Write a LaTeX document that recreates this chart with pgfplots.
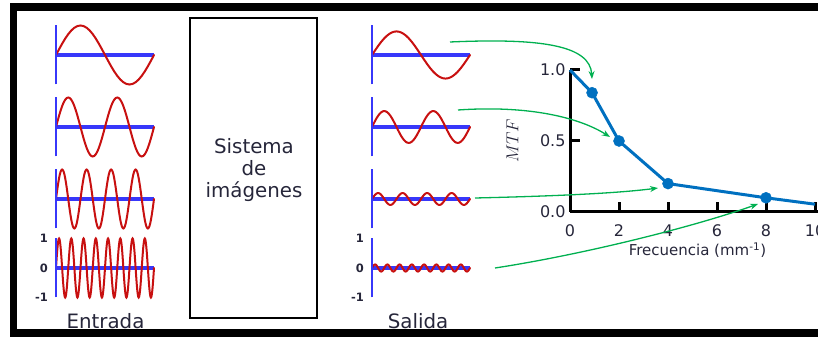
\documentclass[border=0pt]{standalone}
\usepackage{pgfplots}
\pgfplotsset{compat=1.18}
\usepackage{pgfplotstable}
\usepackage{fontspec}
\setmainfont{DejaVu Sans}
\usetikzlibrary{arrows.meta}

\definecolor{wavered}{RGB}{200,16,16}
\definecolor{baseblue}{RGB}{55,55,250}
\definecolor{mtfblue}{RGB}{0,112,192}
\definecolor{arrowgreen}{RGB}{0,176,80}
\definecolor{ink}{RGB}{38,38,58}

% one period of a unit sine, in 32 steps
\pgfplotstableread{
p s
0.00000 0.00000
0.03125 0.19509
0.06250 0.38268
0.09375 0.55557
0.12500 0.70711
0.15625 0.83147
0.18750 0.92388
0.21875 0.98079
0.25000 1.00000
0.28125 0.98079
0.31250 0.92388
0.34375 0.83147
0.37500 0.70711
0.40625 0.55557
0.43750 0.38268
0.46875 0.19509
0.50000 0.00000
0.53125 -0.19509
0.56250 -0.38268
0.59375 -0.55557
0.62500 -0.70711
0.65625 -0.83147
0.68750 -0.92388
0.71875 -0.98079
0.75000 -1.00000
0.78125 -0.98079
0.81250 -0.92388
0.84375 -0.83147
0.87500 -0.70711
0.90625 -0.55557
0.93750 -0.38268
0.96875 -0.19509
1.00000 0.00000
}\sinecycle

% modulation transfer function
\pgfplotstableread{
f mtf
0    1.00
0.9  0.84
2    0.50
4    0.20
8    0.10
10   0.055
}\mtfdata

\pgfplotsset{
  panel/.style={
    scale only axis, width=98pt, height=59pt,
    xmin=0, ymin=-1, ymax=1,
    axis line style={draw=none},
    xtick=\empty, ytick=\empty,
    clip=false, anchor=west,
  },
  panelticks/.style={
    ytick={-1,0,1}, yticklabels={-1,0,1},
    major tick length=0pt,
    yticklabel style={font=\bfseries\fontsize{11.5}{12}\selectfont,
      text=ink, anchor=east, inner sep=0pt, xshift=-8pt},
  },
}

% #1 left x, #2 zero-line y, #3 periods, #4 last period index, #5 amplitude, #6 extra options
\newcommand\wavepanel[6]{%
  \begin{axis}[panel, xmax=#3, at={(#1pt,#2pt)}, #6]
    \addplot[baseblue, line width=4pt] coordinates {(0,0) (#3,0)};
    \pgfplotsinvokeforeach{0,...,#4}{%
      \addplot[wavered, line width=2pt, line cap=round]
        table[x expr=\thisrow{p}+##1, y expr=#5*\thisrow{s}] {\sinecycle};
    }
    \addplot[baseblue, line width=2.2pt] coordinates {(0,-1) (0,1)};
  \end{axis}}

\begin{document}
\begin{tikzpicture}[x=1pt, y=1pt]
\useasboundingbox (0,0) rectangle (818,337);
\clip (0,0) rectangle (818,337);

% frame
\draw[line width=7.5pt] (830,330) -- (13.5,330) -- (13.5,4) -- (830,4);

% input signals
\wavepanel{56}{282}{1}{0}{1}{}
\wavepanel{56}{210}{2}{1}{1}{}
\wavepanel{56}{138}{4}{3}{1}{}
\wavepanel{56}{69}{8}{7}{1}{panelticks}
\node[anchor=base, font=\fontsize{19.8}{20}\selectfont, text=ink] at (105.5,9) {Entrada};

% imaging system
\draw[line width=2.4pt] (190,319) rectangle (317,19);
\node[align=center, font=\fontsize{19.8}{22}\selectfont, text=ink] at (254,167)
  {Sistema\\de\\imágenes};

% output signals
\wavepanel{372}{282}{1}{0}{0.8}{}
\wavepanel{372}{210}{2}{1}{0.54}{}
\wavepanel{372}{138}{4}{3}{0.2}{}
\wavepanel{372}{69}{8}{7}{0.12}{panelticks}
\node[anchor=base, font=\fontsize{19.8}{20}\selectfont, text=ink] at (418,9) {Salida};

% MTF curve
\begin{axis}[
  scale only axis, width=249.9pt, height=142pt,
  at={(570pt,125pt)}, anchor=south west,
  xmin=0, xmax=10.2, ymin=0, ymax=1,
  axis x line=bottom, axis y line=left,
  axis line style={line width=3pt, -},
  xtick={0,2,...,10}, ytick={0,0.5,1},
  tick align=inside, major tick length=10pt,
  tick style={line width=3pt, black},
  /pgf/number format/assume math mode=true,
  tick label style={font=\fontsize{16}{16}\selectfont, text=ink},
  yticklabel style={/pgf/number format/fixed,
    /pgf/number format/fixed zerofill,
    /pgf/number format/precision=1, xshift=-1pt},
  xticklabel style={yshift=-9pt},
  xlabel={Frecuencia (mm\textsuperscript{-1})},
  xlabel style={at={(axis description cs:0.51,-0.27)}, anchor=center,
    font=\fontsize{15}{15}\selectfont, text=ink},
  ylabel={$MTF$},
  ylabel style={at={(axis description cs:-0.23,0.5)}, anchor=center,
    font=\fontsize{19}{19}\selectfont, text=ink},
  clip=false,
]
\addplot[mtfblue, line width=3pt, mark=*, mark size=5.5pt,
  mark indices={2,3,4,5},
  mark options={fill=mtfblue, draw=mtfblue, line width=0.5pt}]
  table[x=f, y=mtf] {\mtfdata};
\end{axis}

% arrows from each output to its MTF value
\begin{scope}[arrowgreen, line width=1.3pt, -{Stealth[length=8pt, width=6pt]}]
\draw (450,295) .. controls (540,299) and (590,292) .. (592,258);
\draw (458,227) .. controls (530,232) and (580,219) .. (610,200);
\draw (475,139) .. controls (560,141) and (620,144) .. (658,149);
\draw (495,69) .. controls (580,82) and (690,109) .. (758,133);
\end{scope}
\end{tikzpicture}
\end{document}
